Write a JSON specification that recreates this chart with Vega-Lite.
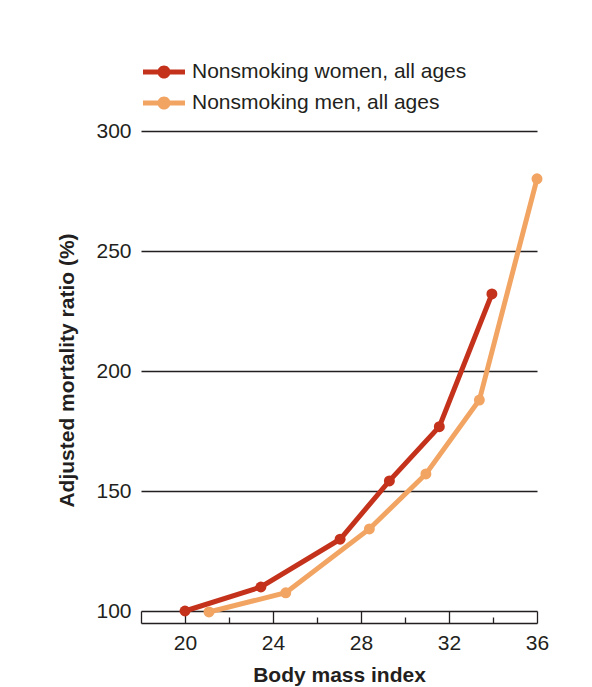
{
  "$schema": "https://vega.github.io/schema/vega-lite/v6.json",
  "width": 396,
  "height": 492,
  "autosize": {"type": "none"},
  "padding": {"left": 141, "top": 131, "right": 55, "bottom": 64},
  "background": "white",
  "config": {
    "view": {"stroke": null},
    "font": "Liberation Sans"
  },
  "data": {
    "values": [
      {"series": "Nonsmoking women, all ages", "bmi": 20.0, "ratio": 100.0},
      {"series": "Nonsmoking women, all ages", "bmi": 23.45, "ratio": 110.0},
      {"series": "Nonsmoking women, all ages", "bmi": 27.05, "ratio": 129.9},
      {"series": "Nonsmoking women, all ages", "bmi": 29.29, "ratio": 154.2},
      {"series": "Nonsmoking women, all ages", "bmi": 31.56, "ratio": 176.8},
      {"series": "Nonsmoking women, all ages", "bmi": 33.95, "ratio": 232.1},
      {"series": "Nonsmoking men, all ages", "bmi": 21.09, "ratio": 99.6},
      {"series": "Nonsmoking men, all ages", "bmi": 24.58, "ratio": 107.6},
      {"series": "Nonsmoking men, all ages", "bmi": 28.38, "ratio": 134.2},
      {"series": "Nonsmoking men, all ages", "bmi": 30.95, "ratio": 157.1},
      {"series": "Nonsmoking men, all ages", "bmi": 33.38, "ratio": 187.9},
      {"series": "Nonsmoking men, all ages", "bmi": 36.0, "ratio": 280.1}
    ]
  },
  "encoding": {
    "x": {
      "field": "bmi",
      "type": "quantitative",
      "scale": {"domain": [18, 36], "nice": false, "zero": false},
      "axis": {
        "title": "Body mass index",
        "titleFont": "Liberation Sans",
        "titleFontSize": 21,
        "titleFontWeight": "bold",
        "titleColor": "#231f20",
        "titleBaseline": "alphabetic",
        "titleY": 58,
        "values": [18, 20, 22, 24, 26, 28, 30, 32, 34, 36],
        "labelExpr": "datum.value % 4 == 0 ? datum.label : ''",
        "labelFontSize": 21,
        "labelColor": "#231f20",
        "labelFont": "Liberation Sans",
        "labelPadding": 21,
        "labelBaseline": "top",
        "labelFlush": false,
        "labelOverlap": false,
        "grid": false,
        "domain": true,
        "domainColor": "#231f20",
        "domainWidth": 1.3,
        "ticks": true,
        "tickColor": "#231f20",
        "tickWidth": 1.3,
        "tickSize": {"condition": {"test": "datum.value % 4 == 0 || datum.value == 18", "value": -12}, "value": -6}
      }
    },
    "y": {
      "field": "ratio",
      "type": "quantitative",
      "scale": {"domain": [95, 300], "nice": false, "zero": false},
      "axis": {
        "title": "Adjusted mortality ratio (%)",
        "titleFont": "Liberation Sans",
        "titleFontSize": 21,
        "titleFontWeight": "bold",
        "titleColor": "#231f20",
        "titleBaseline": "alphabetic",
        "titleX": -68,
        "titleY": 239,
        "titleAngle": -90,
        "titleAlign": "center",
        "values": [100, 150, 200, 250, 300],
        "labelFontSize": 21,
        "labelColor": "#231f20",
        "labelFont": "Liberation Sans",
        "labelPadding": 10,
        "labelBaseline": "middle",
        "labelFlush": false,
        "domain": false,
        "ticks": false,
        "tickSize": 0,
        "grid": true,
        "gridColor": "#231f20",
        "gridWidth": 1.3,
        "gridOpacity": 1
      }
    },
    "color": {
      "field": "series",
      "type": "nominal",
      "scale": {
        "domain": ["Nonsmoking women, all ages", "Nonsmoking men, all ages"],
        "range": ["#c4321c", "#f2a463"]
      },
      "legend": {
        "title": null,
        "orient": "none",
        "legendX": 2,
        "legendY": -80,
        "padding": 0,
        "symbolType": "M-1,-0.12H1V0.12H-1Z M0,-0.31A0.31,0.31 0 1,1 0,0.31A0.31,0.31 0 1,1 0,-0.31Z",
        "symbolSize": 1764,
        "symbolStrokeWidth": 0,
        "rowPadding": -13,
        "labelOffset": 7,
        "labelFontSize": 21,
        "labelFont": "Liberation Sans",
        "labelColor": "#231f20",
        "labelLimit": 400,
        "encode": {
          "symbols": {
            "update": {
              "fill": {"scale": "color", "field": "value"},
              "fillOpacity": {"value": 1},
              "strokeWidth": {"value": 0}
            }
          }
        }
      }
    }
  },
  "layer": [
    {
      "mark": {"type": "line", "strokeWidth": 5, "clip": false},
      "encoding": {"detail": {"field": "series"}}
    },
    {
      "mark": {"type": "circle", "size": 120, "opacity": 1, "clip": false},
      "encoding": {}
    }
  ]
}
